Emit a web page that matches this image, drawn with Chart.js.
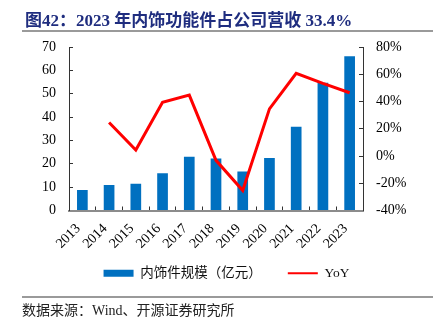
<!DOCTYPE html>
<html>
<head>
<meta charset="utf-8">
<script src="https://cdn.jsdelivr.net/npm/chart.js@4"></script>
<style>
  body { margin: 0; background: #fff; }
  #wrap { position: relative; width: 439px; height: 322px; overflow: hidden; }
  #grafico { position: absolute; left: 0; top: 0; }
  .titulo { position: absolute; left: 25px; top: 6px; font: bold 17px "Liberation Serif", "Noto Sans CJK SC"; color: #1f2d7f; white-space: nowrap; }
  .raya { position: absolute; left: 22px; width: 411px; height: 2px; background: #9a9a9a; }
  .fuente { position: absolute; left: 22px; top: 299px; font: 14px "Liberation Serif", "Noto Sans CJK SC"; color: #222; white-space: nowrap; }
</style>
</head>
<body>
<div id="wrap">
  <canvas id="grafico" width="439" height="322"></canvas>
  <div class="titulo">图42：2023 年内饰功能件占公司营收 33.4%</div>
  <div class="raya" style="top:30px"></div>
  <div class="raya" style="top:296px"></div>
  <div class="fuente">数据来源：Wind、开源证券研究所</div>
</div>
<script>
// Años (eje x)
const anios = ["2013", "2014", "2015", "2016", "2017", "2018", "2019", "2020", "2021", "2022", "2023"];
// Escala de piezas de interior (亿元)
const escala = [8.8, 10.9, 11.5, 16.0, 23.0, 22.3, 16.7, 22.5, 35.9, 54.7, 66.0];
// Crecimiento YoY (%)
const yoy = [null, 24.6, 4.4, 39.5, 44.7, -3.2, -25.3, 34.6, 60.7, 53.3, 46.4];
// Etiquetas
const nombreBarras = "内饰件规模（亿元）";
const nombreLinea = "YoY";

const fuenteEje = { family: '"Liberation Serif", "Noto Sans CJK SC"', size: 14 };

const chart = new Chart("grafico", {
  type: "bar",
  data: {
    labels: anios,
    datasets: [
      {
        label: nombreBarras,
        data: escala,
        backgroundColor: "#0070c0",
        borderWidth: 0,
        barPercentage: 0.4,
        categoryPercentage: 1,
        pointStyle: "rect",
        yAxisID: "y",
        order: 2,
      },
      {
        type: "line",
        label: nombreLinea,
        data: yoy,
        borderColor: "#ff0000",
        backgroundColor: "#ff0000",
        borderWidth: 3,
        pointRadius: 0,
        tension: 0,
        fill: false,
        pointStyle: "line",
        yAxisID: "y1",
        order: 1,
      },
    ],
  },
  options: {
    responsive: false,
    animation: false,
    layout: { padding: { left: 14, right: 0, top: 47, bottom: 32 } },
    plugins: {
      tooltip: { enabled: false },
      legend: {
        position: "bottom",
        labels: {
          usePointStyle: true,
          pointStyleWidth: 30,
          boxHeight: 7,
          padding: 26,
          color: "#111",
          font: { family: '"Liberation Serif", "Noto Sans CJK SC"', size: 13.5 },
          sort: (a, b) => a.datasetIndex - b.datasetIndex,
          generateLabels: (c) => {
            const items = Chart.defaults.plugins.legend.labels.generateLabels(c);
            items.forEach((it) => {
              if (it.datasetIndex === 1) it.lineWidth = 2;
            });
            return items;
          },
        },
      },
    },
    scales: {
      x: {
        grid: { display: true, offset: true, drawOnChartArea: false, tickLength: -4, color: "#333" },
        border: { color: "#8c8c8c", width: 2 },
        ticks: { font: fuenteEje, color: "#000", maxRotation: 45, minRotation: 45, autoSkip: false, padding: 14, labelOffset: -4 },
        afterFit: (s) => {
          s.height = 30;
          // las etiquetas giradas pasan por debajo de la leyenda, sin recorte
          s._computeLabelArea = () => null;
        },
      },
      y: {
        position: "left",
        min: 0,
        max: 70,
        ticks: { stepSize: 10, font: fuenteEje, color: "#000", padding: 17 },
        grid: { drawOnChartArea: false, tickLength: -4, color: "#333" },
        border: { color: "#333", width: 1 },
        afterFit: (s) => { s.width = 55; },
      },
      y1: {
        position: "right",
        min: -40,
        max: 80,
        ticks: { stepSize: 20, font: fuenteEje, color: "#000", padding: 17, callback: (v) => v + "%" },
        grid: { drawOnChartArea: false, tickLength: -4, color: "#333" },
        border: { color: "#333", width: 1 },
        afterFit: (s) => { s.width = 76; },
      },
    },
  },
});
</script>
</body>
</html>
